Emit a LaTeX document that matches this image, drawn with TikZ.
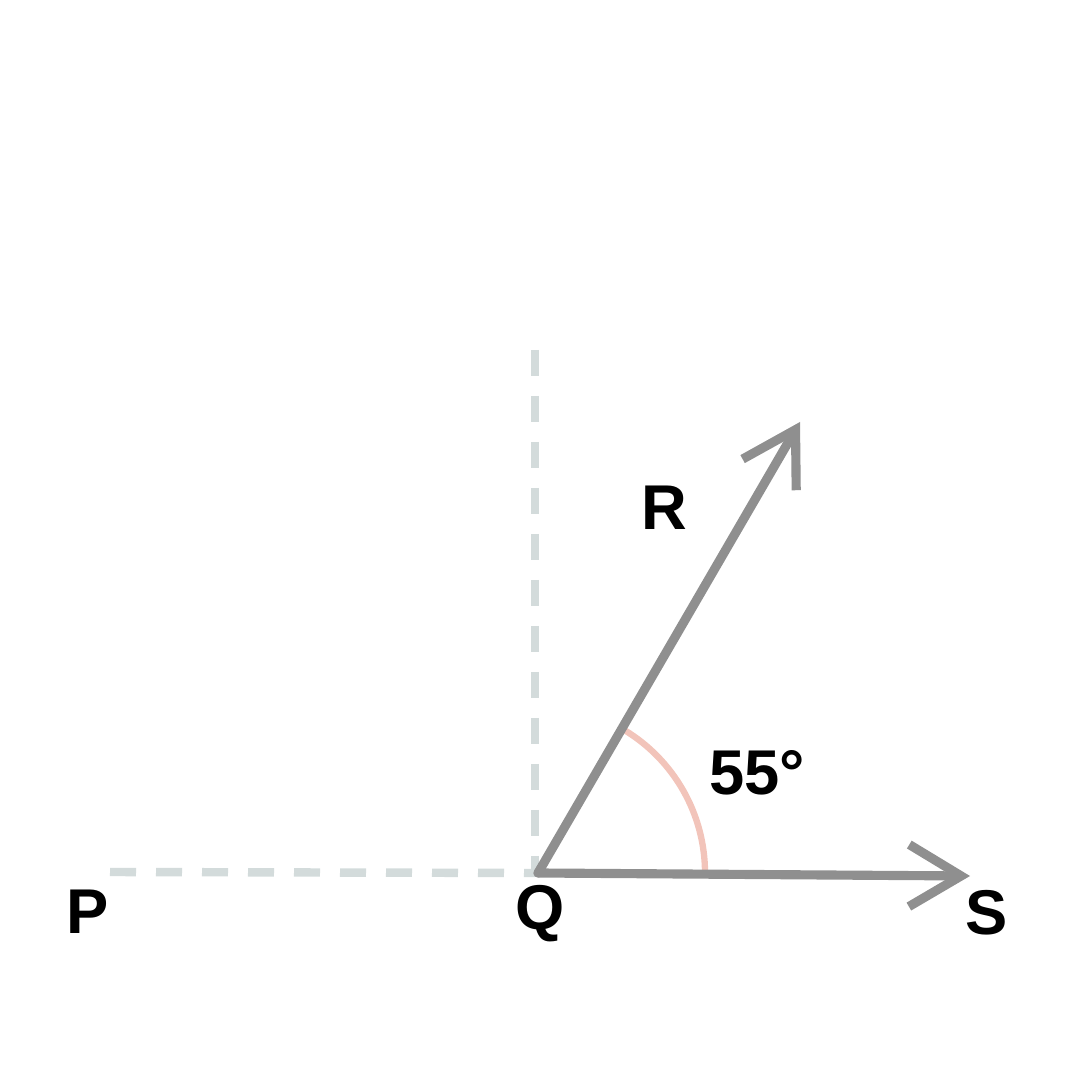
\documentclass[tikz,border=0pt]{standalone}
\usepackage{fontspec}
\setmainfont{Liberation Sans}
\usetikzlibrary{arrows.meta}
\definecolor{raygray}{HTML}{8F8F8F}
\definecolor{guidegray}{HTML}{D3DBDB}
\definecolor{arcpink}{HTML}{F2C4BA}
\tikzset{
  ray/.style={draw=raygray,line width=2.6pt,line cap=round,-{Straight Barb[length=5.2mm,width=6.2mm,line width=2.6pt]}},
  guide/.style={draw=guidegray,line width=2.4pt,dash pattern=on 0.26cm off 0.2cm},
  ptlabel/.style={font=\fontsize{18}{21}\selectfont\bfseries,inner sep=0pt}
}
\begin{document}
\begin{tikzpicture}
			\useasboundingbox (0,0) rectangle (10.8,10.8);
			\coordinate (Q) at (5.38,2.07);
			\coordinate (S) at (9.70,2.04);
			\coordinate (R) at (8.00,6.58);
			\coordinate (P) at (1.10,2.08);
			\coordinate (top) at (5.35,7.30);
			\coordinate (foot) at (5.35,2.07);
			
			\draw[guide] (P) -- (foot);
			\draw[guide] (top) -- (foot);
			
			\draw[arcpink,line width=1.8pt] ([xshift=1.67cm]Q) arc (0:59:1.67cm);
			
			\draw[ray] (Q) -- (S);
			\draw[ray] (Q) -- (R);
			
			\node[ptlabel] (Plab) at (0.88,1.68) {P};
			\node[ptlabel] (Qlab) at (5.40,1.66) {Q};
			\node[ptlabel] (Slab) at (9.87,1.67) {S};
			\node[ptlabel] (Rlab) at (6.64,5.72) {R};
			\node[ptlabel] (angle) at (7.57,3.07) {55°};
		\end{tikzpicture}
\end{document}
